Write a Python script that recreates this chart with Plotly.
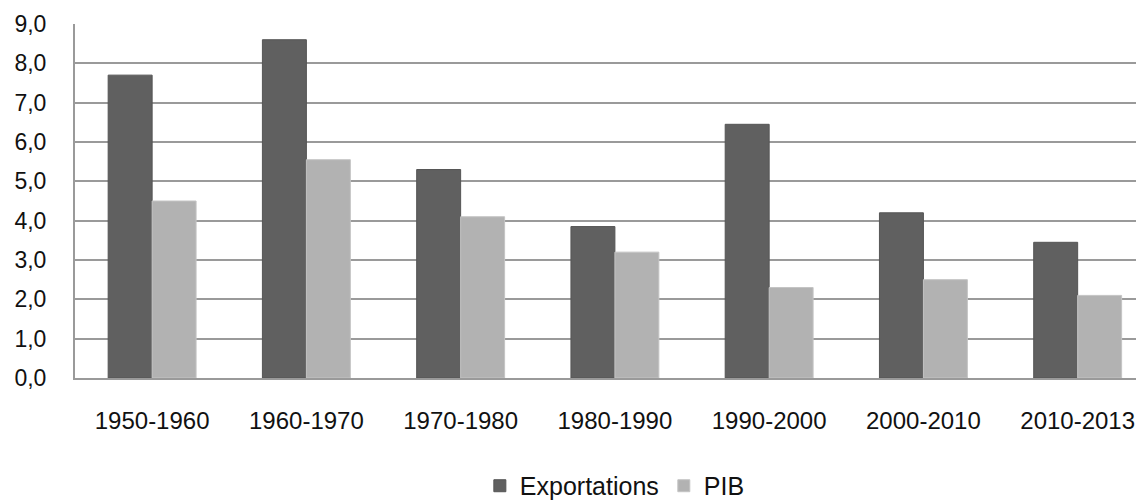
import plotly.graph_objects as go

categories = ["1950-1960", "1960-1970", "1970-1980", "1980-1990", "1990-2000", "2000-2010", "2010-2013"]
exportations = [7.7, 8.6, 5.3, 3.85, 6.45, 4.2, 3.45]
pib = [4.5, 5.55, 4.1, 3.2, 2.3, 2.5, 2.1]
y_ticks = [0, 1, 2, 3, 4, 5, 6, 7, 8, 9]

FONT = "Liberation Sans, Arial, sans-serif"

fig = go.Figure()
fig.add_trace(go.Bar(x=categories, y=exportations, name="Exportations",
                     marker=dict(color="#606060", line=dict(color="#555555", width=1))))
fig.add_trace(go.Bar(x=categories, y=pib, name="PIB",
                     marker=dict(color="#b2b2b2", line=dict(color="#c4c4c4", width=1))))

fig.update_layout(
    width=1136, height=492,
    margin=dict(l=67, r=0, t=16, b=122, autoexpand=False),
    paper_bgcolor="white", plot_bgcolor="white",
    separators=", ",
    barmode="group", bargap=0.43, bargroupgap=0,
    font=dict(family=FONT, color="#111111", size=23),
    showlegend=True,
    legend=dict(orientation="h", x=0.505, xanchor="center", y=-0.305, yanchor="middle",
                font=dict(size=25, family=FONT), itemwidth=30, traceorder="normal"),
)
fig.update_xaxes(
    range=[-0.5, 6.43], showgrid=False, showline=True, linecolor="#9a9a9a", linewidth=2,
    ticks="", ticklabelstandoff=20, tickfont=dict(size=24, family=FONT), fixedrange=True,
)
fig.update_yaxes(
    range=[0, 9], tickvals=y_ticks, tickformat=".1f", showgrid=True, gridcolor="#9a9a9a",
    gridwidth=2, showline=True, linecolor="#9a9a9a", linewidth=2, zeroline=False,
    ticks="", ticklabelstandoff=22, tickfont=dict(size=23, family=FONT), fixedrange=True,
)

fig.write_html("out.html")
